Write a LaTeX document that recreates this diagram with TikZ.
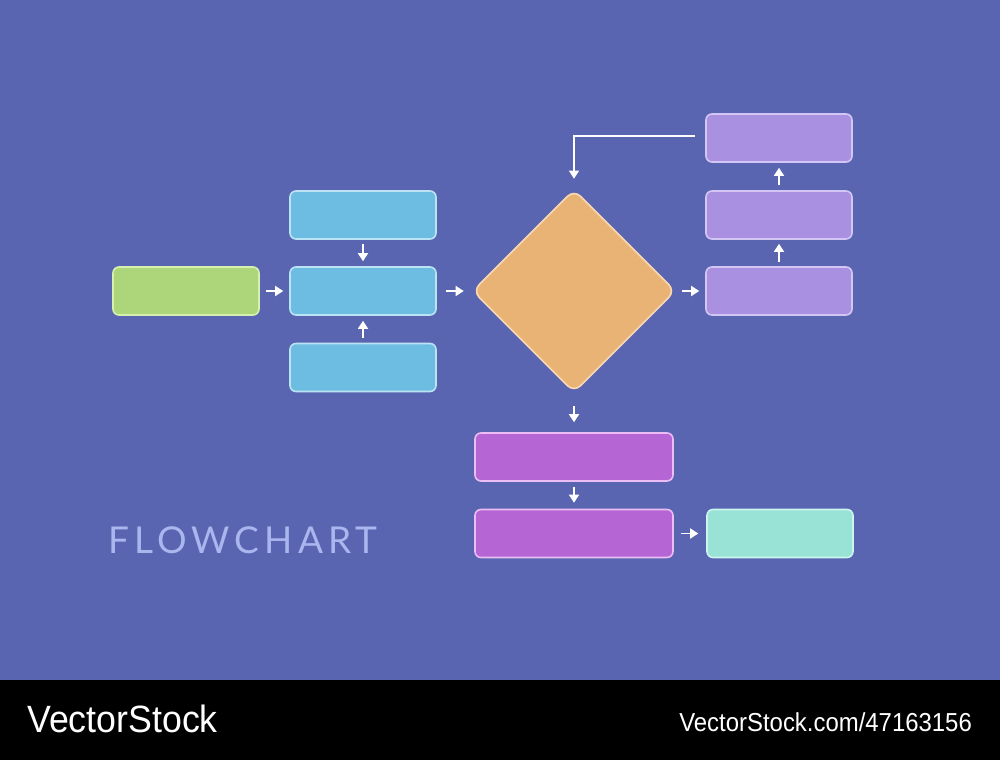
\documentclass[tikz,border=0pt]{standalone}
\usepackage{fontspec}
\setmainfont{Liberation Sans}
\newfontfamily\titlefont[LetterSpace=14]{Lato}
\usetikzlibrary{arrows.meta,shapes.geometric}
\definecolor{bg}{HTML}{5965B1}
\definecolor{greenF}{HTML}{ADD67A}\definecolor{greenD}{HTML}{D6F0AE}
\definecolor{blueF}{HTML}{6DBDE2}\definecolor{blueD}{HTML}{BCE3F4}
\definecolor{orangeF}{HTML}{E8B375}\definecolor{orangeD}{HTML}{FAD9B2}
\definecolor{lilacF}{HTML}{AA90E0}\definecolor{lilacD}{HTML}{D4C6F4}
\definecolor{magF}{HTML}{B565D4}\definecolor{magD}{HTML}{EBBDF4}
\definecolor{tealF}{HTML}{98E3D6}\definecolor{tealD}{HTML}{CBF5EE}
\definecolor{titleC}{HTML}{AAB6EE}
\begin{document}
\begin{tikzpicture}[x=1pt,y=-1pt,
  box/.style={rectangle,rounded corners=6pt,line width=1.6pt,minimum width=146pt,minimum height=48pt,inner sep=0pt},
  widebox/.style={box,minimum width=198pt},
  arr/.style={draw=white,line width=1.5pt,-{Triangle[length=8pt,width=10pt]}}]
\useasboundingbox (0,0) rectangle (1000,760);
\fill[bg] (0,0) rectangle (1000,680);
\fill[black] (0,680) rectangle (1000,760);
% nodes
\node[box,fill=greenF,draw=greenD] (g) at (186,291) {};
\node[box,fill=blueF,draw=blueD] (bt) at (363,215) {};
\node[box,fill=blueF,draw=blueD] (bm) at (363,291) {};
\node[box,fill=blueF,draw=blueD] (bb) at (363,367.5) {};
\node[diamond,aspect=1,minimum width=203pt,minimum height=203pt,inner sep=0pt,rounded corners=9pt,line width=1.6pt,fill=orangeF,draw=orangeD] (d) at (574,291) {};
\node[box,fill=lilacF,draw=lilacD] (p1) at (779,291) {};
\node[box,fill=lilacF,draw=lilacD] (p2) at (779,215) {};
\node[box,fill=lilacF,draw=lilacD] (p3) at (779,138) {};
\node[widebox,fill=magF,draw=magD] (m1) at (574,457) {};
\node[widebox,fill=magF,draw=magD] (m2) at (574,533.5) {};
\node[box,fill=tealF,draw=tealD] (t) at (780,533.5) {};
% connectors
\draw[arr,shorten <=6pt,shorten >=6pt] (g.east) -- (bm.west);
\draw[arr,shorten <=4pt,shorten >=5pt] (bt.south) -- (bm.north);
\draw[arr,shorten <=5pt,shorten >=5pt] (bb.north) -- (bm.south);
\draw[arr,shorten <=9pt,shorten >=8pt] (bm.east) -- (d.west);
\draw[arr,shorten <=6pt,shorten >=6pt] (d.east) -- (p1.west);
\draw[arr,shorten <=4pt,shorten >=4pt] (p1.north) -- (p2.south);
\draw[arr,shorten <=5pt,shorten >=5pt] (p2.north) -- (p3.south);
\draw[arr,line width=1.2pt,shorten <=10pt,shorten >=10pt] ([yshift=2pt]p3.west) -| (d.north);
\draw[arr,shorten <=13pt,shorten >=10pt] (d.south) -- (m1.north);
\draw[arr,shorten <=5pt,shorten >=6pt] (m1.south) -- (m2.north);
\draw[arr,shorten <=7pt,shorten >=8pt] (m2.east) -- (t.west);
% texts
\node[anchor=base west,inner sep=0pt,text=titleC,font=\titlefont\fontsize{37}{40}\selectfont] (title) at (108,553) {FLOWCHART};
\node[anchor=base west,inner sep=0pt,text=white,font=\fontsize{38}{40}\selectfont,xscale=0.94] (vs) at (27,732) {VectorStock};
\node[anchor=base east,inner sep=0pt,text=white,font=\fontsize{26}{28}\selectfont,xscale=0.92] (url) at (972,731) {VectorStock.com/47163156};
\end{tikzpicture}
\end{document}
